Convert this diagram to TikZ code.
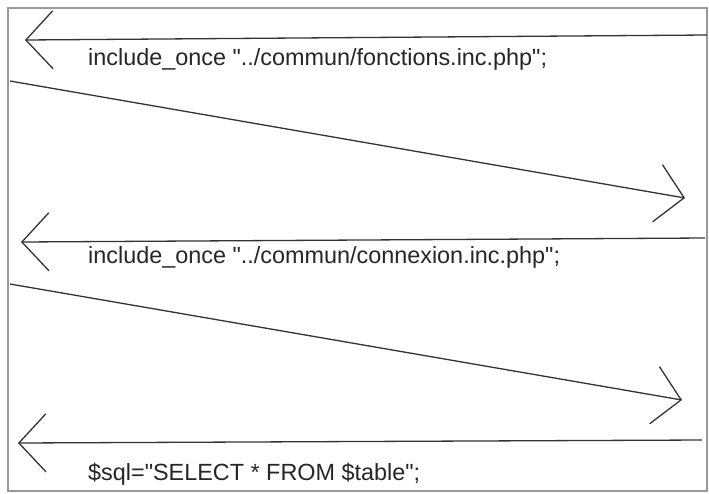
\documentclass[tikz,border=0pt]{standalone}
\usepackage{fontspec}
\setmainfont{Liberation Sans}[Ligatures=TeXOff]
\usetikzlibrary{arrows.meta}
\tikzset{
    code/.style={anchor=base west, inner sep=0pt, font=\fontsize{23.4}{28}\selectfont, text=black!85},
    call/.style={-{Straight Barb[length=27pt, width=58pt]}, line width=1.3pt, draw=black!80},
    frame/.style={draw=black!40, line width=1.5pt}
}

\begin{document}
\begin{tikzpicture}[x=1pt, y=-1pt]
    \useasboundingbox (0,0) rectangle (709,493);
    \draw[frame] (8,8) rectangle (707,491);

    % end points of the calls
    \coordinate (r1) at (707,35);
    \coordinate (l1) at (25,40);
    \coordinate (s1) at (10,81);
    \coordinate (e1) at (685,198);
    \coordinate (r2) at (705,238);
    \coordinate (l2) at (21,242);
    \coordinate (s2) at (10,284);
    \coordinate (e2) at (682,400);
    \coordinate (r3) at (702,440);
    \coordinate (l3) at (18,443);

    \node (inc1) [code] at (88,65) {include\_once "../commun/fonctions.inc.php";};
    \node (inc2) [code] at (88,263) {include\_once "../commun/connexion.inc.php";};
    \node (sql) [code] at (88,480) {\$sql="SELECT * FROM \$table";};

    \draw[call] (r1) -- (l1);
    \draw[call] (s1) -- (e1);
    \draw[call] (r2) -- (l2);
    \draw[call] (s2) -- (e2);
    \draw[call] (r3) -- (l3);
\end{tikzpicture}
\end{document}
